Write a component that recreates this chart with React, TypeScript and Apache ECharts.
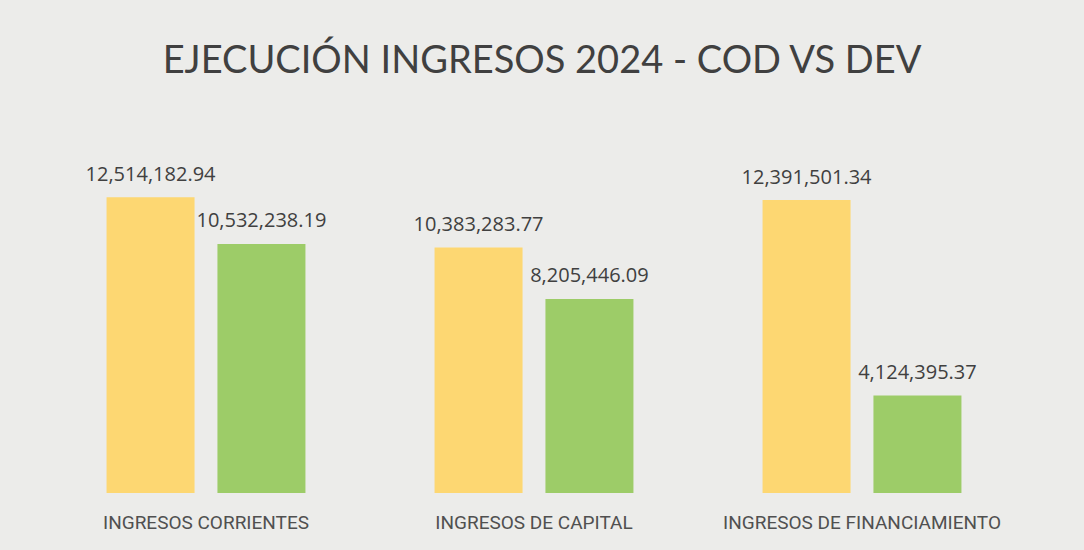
import React, { useEffect, useRef } from "react";
import * as echarts from "echarts";

const categories = ["INGRESOS CORRIENTES", "INGRESOS DE CAPITAL", "INGRESOS DE FINANCIAMIENTO"];
const codValues = [12514182.94, 10383283.77, 12391501.34];
const devValues = [10532238.19, 8205446.09, 4124395.37];

const fmt = (v: number) =>
  v.toLocaleString("en-US", { minimumFractionDigits: 2, maximumFractionDigits: 2 });

export default function App() {
  const ref = useRef<HTMLDivElement>(null);
  useEffect(() => {
    if (!ref.current) return;
    const chart = echarts.init(ref.current, undefined, { renderer: "svg" });
    const label = {
      show: true,
      position: "top" as const,
      distance: 14,
      color: "#404040",
      fontSize: 20,
      fontFamily: "Open Sans",
      formatter: (p: any) => fmt(p.value),
    };
    chart.setOption({
      animation: false,
      backgroundColor: "#ececea",
      title: {
        text: "EJECUCIÓN INGRESOS 2024 - COD VS DEV",
        left: "center",
        top: 34,
        textStyle: { color: "#404040", fontSize: 38, fontWeight: "normal", fontFamily: "Lato" },
      },
      grid: { left: 42, right: 58, top: 162, bottom: 57 },
      xAxis: {
        type: "category",
        data: categories,
        axisLine: { show: false },
        axisTick: { show: false },
        axisLabel: {
          color: "#505050",
          fontSize: 19,
          fontFamily: "Roboto",
          margin: 20,
          interval: 0,
          hideOverlap: false,
        },
      },
      yAxis: { type: "value", min: 0, max: 14000000, show: false, splitLine: { show: false } },
      series: [
        {
          name: "COD",
          type: "bar",
          data: codValues,
          barWidth: 88,
          barGap: "26%",
          itemStyle: { color: "#fdd772" },
          label,
        },
        {
          name: "DEV",
          type: "bar",
          data: devValues,
          barWidth: 88,
          itemStyle: { color: "#9dcc68" },
          label,
        },
      ],
    });
    return () => chart.dispose();
  }, []);
  return <div ref={ref} style={{ width: 1084, height: 550, position: "absolute", left: 0, top: 0 }} />;
}
